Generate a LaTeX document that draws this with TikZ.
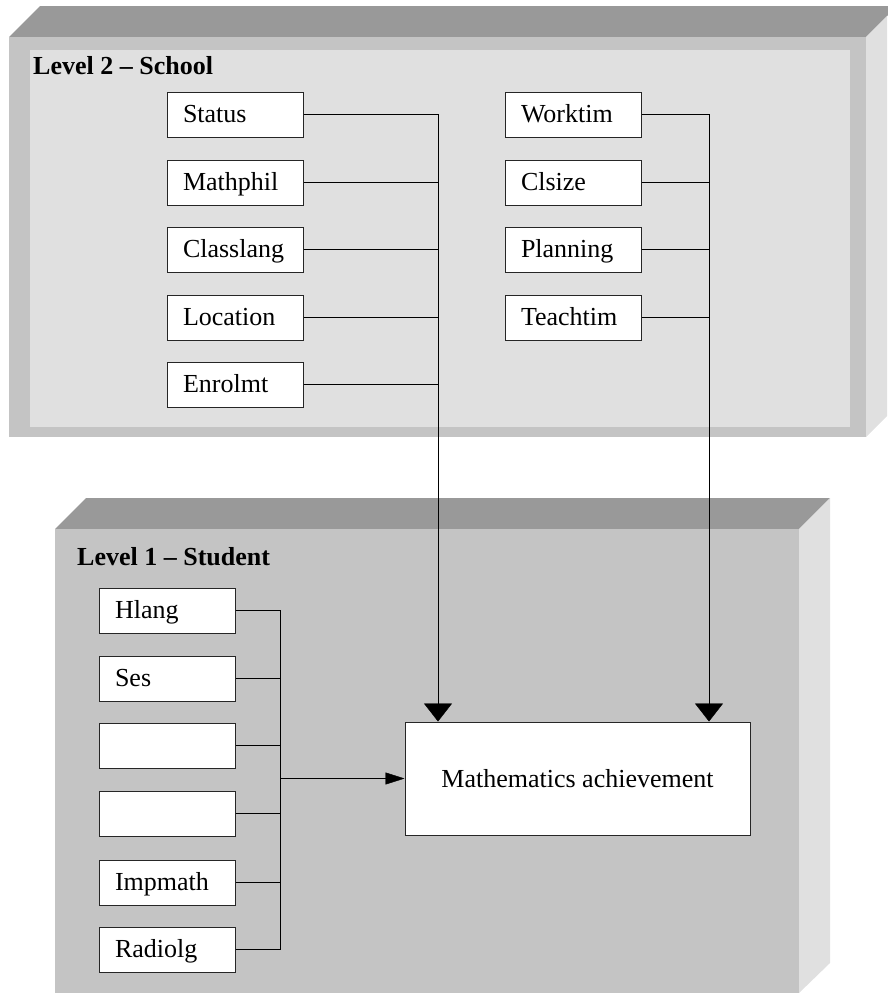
\documentclass[tikz,border=0pt]{standalone}
\usepackage{fontspec}
\setmainfont{Liberation Serif}
\usetikzlibrary{arrows.meta, positioning}
\definecolor{topface}{HTML}{999999}
\definecolor{frontface}{HTML}{C4C4C4}
\definecolor{panelface}{HTML}{E0E0E0}
\definecolor{sideface}{HTML}{E0E0E0}

\begin{document}
\begin{tikzpicture}[x=1pt, y=-1pt, >=Stealth]
      % Node style
      \tikzset{
        varbox/.style={draw=black!85, fill=white, line width=1pt, minimum height=45pt,
          text height=20pt, text depth=5pt,
          text width=104pt, inner xsep=16pt, align=left, font=\fontsize{26}{30}\selectfont},
        outbox/.style={draw=black!85, fill=white, line width=1pt, minimum width=345pt,
          minimum height=113pt, text height=21pt, text depth=4pt,
          font=\fontsize{26}{30}\selectfont},
        lvllabel/.style={inner sep=0pt, anchor=base west, font=\bfseries\fontsize{26}{30}\selectfont},
        bigarrow/.style={-{Triangle[width=28pt, length=18pt]}},
        smallarrow/.style={-{Triangle[width=12pt, length=19pt]}},
      }
      \useasboundingbox (0,0) rectangle (887,993);
      % Level 2 block
      \fill[topface] (9,37) -- (40,6) -- (897,6) -- (866,37) -- cycle;
      \fill[sideface] (866,37) -- (887,16) -- (887,416) -- (866,437) -- cycle;
      \fill[frontface] (9,37) rectangle (866,437);
      \fill[panelface] (30,50) rectangle (850,427);
      % Level 1 block
      \fill[topface] (55,529) -- (86,498) -- (830,498) -- (799,529) -- cycle;
      \fill[sideface] (799,529) -- (830,498) -- (830,963) -- (799,993) -- cycle;
      \fill[frontface] (55,529) rectangle (799,993);
      % Labels
      \node (school) [lvllabel] at (33,74) {Level 2 -- School};
      \node (student) [lvllabel] at (77,565) {Level 1 -- Student};
      % Nodes
      \node (status) [varbox] at (235,114.5) {Status};
      \node (mathphil) [varbox] at (235,182.5) {Mathphil};
      \node (classlang) [varbox] at (235,249.5) {Classlang};
      \node (location) [varbox] at (235,317.5) {Location};
      \node (enrolmt) [varbox] at (235,384.5) {Enrolmt};
      \node (worktim) [varbox] at (573,114.5) {Worktim};
      \node (clsize) [varbox] at (573,182.5) {Clsize};
      \node (planning) [varbox] at (573,249.5) {Planning};
      \node (teachtim) [varbox] at (573,317.5) {Teachtim};
      \node (hlang) [varbox] at (167,610.5) {Hlang};
      \node (ses) [varbox] at (167,678.5) {Ses};
      \node (blanka) [varbox] at (167,745.5) {};
      \node (blankb) [varbox] at (167,813.5) {};
      \node (impmath) [varbox] at (167,882.5) {Impmath};
      \node (radiolg) [varbox] at (167,949.5) {Radiolg};
      \node (ach) [outbox] at (577.5,778.5) {Mathematics achievement};
      % Bus points
      \coordinate (busleft) at (438,0);
      \coordinate (busright) at (709,0);
      \coordinate (busstud) at (280,0);
      % Arrows
      \draw[bigarrow] (status.east) -| (ach.north -| busleft);
      \foreach \n in {mathphil, classlang, location, enrolmt}
        \draw (\n.east) -- (\n.east -| busleft);
      \draw[bigarrow] (worktim.east) -| (ach.north -| busright);
      \foreach \n in {clsize, planning, teachtim}
        \draw (\n.east) -- (\n.east -| busright);
      \draw (hlang.east) -| (busstud |- radiolg.east) -- (radiolg.east);
      \foreach \n in {ses, blanka, blankb, impmath}
        \draw (\n.east) -- (\n.east -| busstud);
      \draw[smallarrow] (busstud |- ach.west) -- (ach.west);
    \end{tikzpicture}
\end{document}
